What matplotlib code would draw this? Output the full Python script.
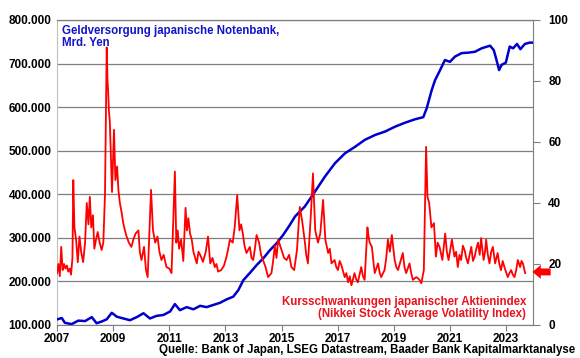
import matplotlib
matplotlib.use("Agg")
import matplotlib.pyplot as plt
from matplotlib.ticker import FuncFormatter, FixedLocator

plt.rcParams['font.family'] = ['Liberation Sans', 'DejaVu Sans']
plt.rcParams['font.weight'] = 'bold'

# monetary base, Mrd. Yen (left axis)
blue_years = [2007.01, 2007.17, 2007.28, 2007.52, 2007.76, 2008.0, 2008.24, 2008.41, 2008.59,
              2008.77, 2008.95, 2009.13, 2009.36, 2009.6, 2009.84, 2010.08, 2010.31, 2010.55,
              2010.79, 2011.03, 2011.2, 2011.38, 2011.62, 2011.86, 2012.1, 2012.33, 2012.57,
              2012.81, 2013.05, 2013.28, 2013.46, 2013.64, 2013.88, 2014.12, 2014.35, 2014.59,
              2014.83, 2015.06, 2015.28, 2015.48, 2015.83, 2016.19, 2016.54, 2016.9, 2017.26,
              2017.62, 2017.97, 2018.33, 2018.69, 2019.04, 2019.39, 2019.75, 2020.05, 2020.17,
              2020.35, 2020.47, 2020.65, 2020.82, 2021.0, 2021.18, 2021.42, 2021.65, 2021.89,
              2022.13, 2022.43, 2022.56, 2022.66, 2022.75, 2022.84, 2022.99, 2023.13, 2023.25,
              2023.39, 2023.51, 2023.67, 2023.84, 2023.96]
blue_values = [113, 116, 105, 102, 110, 109, 118, 104, 108,
               113, 128, 119, 115, 111, 118, 127, 115, 121,
               123, 131, 148, 134, 141, 136, 144, 141, 146,
               151, 159, 165, 180, 203, 220, 238, 253, 272,
               288, 307, 328, 349, 372, 406, 440, 471, 494,
               509, 525, 536, 544, 555, 564, 572, 577, 597,
               639, 662, 685, 708, 704, 716, 724, 725, 727,
               735, 741, 731, 708, 685, 697, 702, 739, 735,
               745, 733, 745, 748, 748]
blue_values = [v * 1000 for v in blue_values]

# Nikkei Stock Average Volatility Index (right axis)
red_years = [2007.0, 2007.05, 2007.1, 2007.15, 2007.2, 2007.25, 2007.3, 2007.35, 2007.4, 2007.45,
             2007.5, 2007.55, 2007.58, 2007.62, 2007.68, 2007.74, 2007.8, 2007.86, 2007.93, 2008.0,
             2008.06, 2008.12, 2008.17, 2008.22, 2008.28, 2008.33, 2008.39, 2008.45, 2008.52, 2008.59,
             2008.65, 2008.71, 2008.77, 2008.8, 2008.82, 2008.85, 2008.88, 2008.92, 2008.96, 2009.03,
             2009.08, 2009.14, 2009.19, 2009.24, 2009.3, 2009.36, 2009.42, 2009.48, 2009.56, 2009.65,
             2009.72, 2009.8, 2009.9, 2009.95, 2010.01, 2010.1, 2010.17, 2010.23, 2010.35, 2010.42,
             2010.5, 2010.58, 2010.65, 2010.72, 2010.8, 2010.9, 2011.0, 2011.08, 2011.2, 2011.25,
             2011.3, 2011.35, 2011.42, 2011.5, 2011.58, 2011.63, 2011.68, 2011.74, 2011.8, 2011.86,
             2011.91, 2011.98, 2012.04, 2012.1, 2012.2, 2012.3, 2012.38, 2012.46, 2012.54, 2012.62,
             2012.68, 2012.74, 2012.85, 2012.95, 2013.04, 2013.1, 2013.16, 2013.26, 2013.33, 2013.42,
             2013.5, 2013.56, 2013.62, 2013.68, 2013.75, 2013.87, 2013.93, 2013.99, 2014.05, 2014.11,
             2014.2, 2014.27, 2014.34, 2014.43, 2014.52, 2014.64, 2014.7, 2014.76, 2014.82, 2014.88,
             2015.0, 2015.09, 2015.18, 2015.27, 2015.35, 2015.45, 2015.55, 2015.65, 2015.73, 2015.82,
             2015.88, 2015.94, 2016.04, 2016.12, 2016.2, 2016.3, 2016.38, 2016.48, 2016.56, 2016.66,
             2016.72, 2016.78, 2016.89, 2016.95, 2017.01, 2017.07, 2017.13, 2017.25, 2017.31, 2017.37,
             2017.43, 2017.49, 2017.6, 2017.66, 2017.72, 2017.84, 2017.9, 2017.96, 2018.06, 2018.1,
             2018.14, 2018.22, 2018.27, 2018.32, 2018.44, 2018.5, 2018.55, 2018.67, 2018.73, 2018.79,
             2018.86, 2018.93, 2019.03, 2019.09, 2019.15, 2019.24, 2019.32, 2019.38, 2019.44, 2019.56,
             2019.62, 2019.68, 2019.8, 2019.9, 2019.98, 2020.07, 2020.15, 2020.2, 2020.26, 2020.34,
             2020.43, 2020.5, 2020.56, 2020.63, 2020.73, 2020.83, 2020.89, 2020.95, 2021.07, 2021.16,
             2021.22, 2021.28, 2021.34, 2021.4, 2021.46, 2021.52, 2021.58, 2021.64, 2021.7, 2021.76,
             2021.82, 2021.88, 2021.94, 2022.0, 2022.06, 2022.11, 2022.2, 2022.25, 2022.29, 2022.35,
             2022.41, 2022.47, 2022.53, 2022.61, 2022.7, 2022.76, 2022.82, 2022.88, 2022.94, 2023.06,
             2023.12, 2023.18, 2023.24, 2023.3, 2023.36, 2023.42, 2023.5, 2023.55, 2023.6, 2023.68]
red_values = [17, 20, 16, 25.6, 18, 20, 18.5, 19.5, 17.5, 18.5,
              16.5, 22, 47.5, 32, 28, 20.6, 29, 24, 20.6, 27,
              40, 33, 42, 32, 36, 25, 28, 30.5, 27, 24.6,
              27, 43, 91, 80, 77, 70, 67, 55, 43.6, 64,
              47.5, 52, 44, 40, 37, 33.4, 31, 29, 27, 25.6,
              28, 30, 31, 24, 21.3, 25.6, 18, 15.7, 44.3, 31,
              27, 29, 24, 21.3, 23, 19, 18.5, 17, 50.3, 27,
              31, 25, 28, 21, 38.4, 31, 35, 30, 28, 24,
              22.4, 20.2, 24, 23, 20.7, 24, 29, 20.2, 22, 19,
              20, 17.5, 18, 19.5, 22.4, 25, 28, 27, 32, 42.6,
              31, 33, 30, 26, 23.6, 25.6, 22, 21.3, 25, 29.5,
              27, 23, 21.3, 19, 15.7, 17, 21, 26, 22, 28,
              24.6, 22, 21.3, 23, 19, 18, 24.6, 38.7, 34.4, 28,
              23, 20.2, 35.5, 49.7, 31, 27, 30, 41, 28, 23.6,
              25, 20.2, 21.3, 19, 18, 21, 19.7, 15.7, 17, 14,
              16, 13, 17, 15, 14, 19, 16, 14.8, 32, 29,
              27, 25.6, 21, 17, 20.2, 17, 15.7, 18, 22, 28,
              24, 29.5, 21.3, 19, 18, 21, 23.6, 19, 17, 20.2,
              17, 14.8, 15.7, 15, 13.7, 18, 58.4, 42, 40, 32,
              33.4, 22.4, 27, 25.6, 21.3, 30, 24, 21.3, 28, 22.4,
              24, 19, 23, 21.3, 26, 24.6, 22, 20.2, 23, 25.6,
              21, 22.4, 25, 27, 23, 28.5, 21.3, 24, 28, 23,
              20.2, 24, 25.6, 20.2, 23.6, 20, 18, 21, 19, 15.7,
              17, 18, 16.5, 15.7, 18, 21.3, 19, 21, 20.2, 17]

year_ticks = [2007, 2009, 2011, 2013, 2015, 2017, 2019, 2021, 2023]

BLUE = '#1414c8'
RED = '#ff0000'
GRID = '#7f7f7f'

fig = plt.figure(figsize=(5.8, 3.58), dpi=100)
fig.set_facecolor('white')
ax = fig.add_axes([0.0983, 0.0922, 0.8207, 0.852])
ax2 = ax.twinx()

ax.plot(blue_years, blue_values, color='#0000cc', lw=1.8, zorder=3)
ax2.plot(red_years, red_values, color=RED, lw=1.3, zorder=3)

ax.set_xlim(2007, 2023.96)
ax.set_ylim(100000, 800000)
ax2.set_ylim(0, 100)

ax.yaxis.set_major_locator(FixedLocator(range(100000, 800001, 100000)))
ax.yaxis.set_major_formatter(FuncFormatter(lambda v, p: f'{int(v):,}'.replace(',', '.')))
ax.grid(axis='y', color=GRID, lw=0.9)
ax.set_axisbelow(True)
ax.set_xticks(year_ticks)
ax.set_xticklabels([str(y) for y in year_ticks])
ax2.set_yticks(range(0, 101, 20))

ax.tick_params(axis='y', length=0, pad=4, labelsize=8.5)
ax.tick_params(axis='x', length=4, direction='out', color=GRID, pad=2, labelsize=8.5)
ax2.tick_params(axis='y', length=5, direction='out', color=GRID, pad=6, labelsize=8.5)

ax.spines['top'].set_color(GRID)
ax.spines['top'].set_linewidth(0.9)
ax2.spines['top'].set_visible(False)
ax.spines['left'].set_color('#bfbfbf')
ax2.spines['left'].set_visible(False)
ax.spines['right'].set_visible(False)
ax2.spines['right'].set_color(GRID)
ax2.spines['bottom'].set_visible(False)
ax.spines['bottom'].set_color(GRID)

ax.text(0.01, 0.985, 'Geldversorgung japanische Notenbank,\nMrd. Yen', transform=ax.transAxes,
        color=BLUE, fontsize=8.3, fontweight='bold', va='top', ha='left', linespacing=1.1)
ax2.text(0.985, 0.015, 'Kursschwankungen japanischer Aktienindex\n(Nikkei Stock Average Volatility Index)',
         transform=ax2.transAxes, color='#e8141e', fontsize=8.3, fontweight='bold',
         va='bottom', ha='right', multialignment='right', linespacing=1.1)
fig.text(0.992, 0.005, 'Quelle: Bank of Japan, LSEG Datastream, Baader Bank Kapitalmarktanalyse',
         ha='right', va='bottom', fontsize=8.3, fontweight='bold')

ax2.annotate('', xy=(0.993, 17.4), xycoords=('axes fraction', 'data'),
             xytext=(1.043, 17.4), textcoords=('axes fraction', 'data'),
             arrowprops=dict(arrowstyle='simple,head_length=0.6,head_width=1.0,tail_width=0.5',
                             color=RED, lw=0),
             annotation_clip=False, zorder=5)

fig.savefig('out.png', dpi=100)
